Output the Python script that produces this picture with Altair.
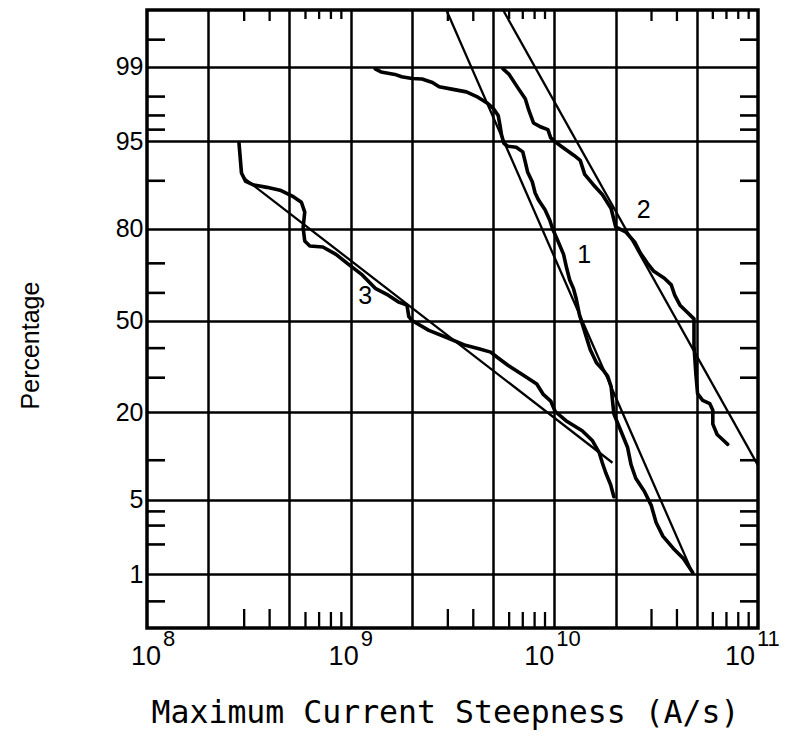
import altair as alt
import pandas as pd
from statistics import NormalDist

# ---------------- data ----------------
# Curve 1: measured cumulative distribution (steepness A/s, percentage)
c1_x = [1.32e9, 1.41e9, 1.65e9, 1.78e9, 2.0e9, 2.24e9, 2.52e9, 2.72e9, 3.18e9, 3.7e9,
        4.16e9, 4.67e9, 5.03e9, 5.3e9, 5.4e9, 5.5e9, 5.65e9, 5.9e9, 6.5e9, 7.0e9,
        7.2e9, 7.4e9, 7.8e9, 8.05e9, 8.35e9, 9.0e9, 9.5e9, 9.8e9, 1.04e10, 1.11e10,
        1.15e10, 1.19e10, 1.24e10, 1.28e10, 1.33e10, 1.38e10, 1.43e10, 1.5e10, 1.61e10, 1.73e10,
        1.83e10, 1.9e10, 1.93e10, 1.96e10, 2.12e10, 2.29e10, 2.38e10, 2.51e10, 2.77e10, 2.99e10,
        3.16e10, 3.41e10, 3.83e10, 4.3e10, 4.78e10]
c1_p = [98.95, 98.87, 98.8, 98.73, 98.68, 98.66, 98.55, 98.4, 98.3, 98.2,
        98.0, 97.7, 97.4, 97.0, 96.4, 95.6, 94.8, 94.5, 94.4, 93.9,
        92.7, 91.3, 89.8, 87.9, 86.6, 84.5, 82.1, 80.0, 76.8, 72.8,
        68.4, 64.5, 61.6, 58.0, 51.9, 48.1, 44.4, 39.5, 34.9, 32.6,
        30.4, 27.2, 23.2, 19.6, 15.6, 12.2, 9.3, 7.4, 5.85, 4.5,
        3.2, 2.4, 1.84, 1.45, 1.04]

# Curve 2
c2_x = [5.6e9, 6.0e9, 6.7e9, 7.2e9, 7.5e9, 7.9e9, 8.6e9, 9.3e9, 9.6e9, 1.0e10,
        1.08e10, 1.25e10, 1.34e10, 1.41e10, 1.55e10, 1.72e10, 1.9e10, 2.0e10, 2.25e10, 2.49e10,
        2.64e10, 2.86e10, 3.08e10, 3.47e10, 3.75e10, 3.9e10, 4.14e10, 4.48e10, 4.85e10, 4.85e10,
        4.85e10, 4.9e10, 4.95e10, 5.05e10, 5.35e10, 5.8e10, 6.0e10, 6.0e10, 6.3e10, 6.8e10,
        7.1e10]
c2_p = [98.95, 98.8, 98.3, 97.9, 97.3, 96.5, 96.2, 96.0, 95.3, 95.0,
        94.5, 93.5, 92.9, 91.0, 89.4, 87.6, 84.8, 80.5, 79.1, 76.3,
        73.3, 70.1, 67.4, 65.1, 62.8, 59.2, 55.6, 53.1, 50.6, 45.7,
        40.8, 36.0, 31.5, 25.1, 23.2, 22.3, 20.5, 17.1, 14.8, 13.5,
        12.8]

# Curve 3
c3_x = [2.83e8, 2.91e8, 3.05e8, 3.35e8, 3.88e8, 4.5e8, 5.23e8, 5.73e8, 5.95e8, 5.84e8,
        5.95e8, 6.3e8, 7.3e8, 8.47e8, 9.8e8, 1.14e9, 1.32e9, 1.53e9, 1.71e9, 1.89e9,
        1.93e9, 2.0e9, 2.42e9, 2.92e9, 3.66e9, 4.26e9, 4.87e9, 5.24e9, 5.94e9, 7.11e9,
        8.2e9, 8.8e9, 9.6e9, 1.01e10, 1.14e10, 1.37e10, 1.54e10, 1.66e10, 1.72e10, 1.79e10,
        1.89e10, 1.96e10]
c3_p = [94.8, 91.2, 89.9, 89.3, 88.9, 88.4, 87.2, 86.1, 84.0, 80.3,
        76.7, 75.3, 75.0, 72.8, 69.6, 66.2, 61.6, 59.2, 56.8, 55.6,
        51.4, 50.0, 46.4, 44.0, 41.0, 39.8, 38.6, 36.8, 34.0, 30.6,
        28.0, 25.0, 23.0, 20.2, 17.9, 15.6, 13.5, 11.3, 9.6, 8.1,
        6.6, 5.3]

# Fitted (straight) lognormal lines: end points
fit1_x = [2.95e9, 4.8e10]
fit1_p = [99.78, 1.0]
fit2_x = [5.6e9, 1.0e11]
fit2_p = [99.78, 9.2]
fit3_x = [3.0e8, 1.93e10]
fit3_p = [90.4, 9.6]

# Curve labels
lab_text = ["1", "2", "3"]
lab_x = [1.4e10, 2.75e10, 1.18e9]
lab_p = [72.5, 84.5, 59.0]

# Axis ticks / grid
y_major = [1, 5, 20, 50, 80, 95, 99]
y_minor = [0.5, 2, 3, 4, 10, 30, 40, 60, 70, 90, 96, 97, 98, 99.5]
x_grid = [2e8, 5e8, 1e9, 2e9, 5e9, 1e10, 2e10, 5e10]
x_minor_long = [3e8, 4e8, 3e9, 4e9, 3e10, 4e10]
x_minor_short = [6e8, 7e8, 8e8, 9e8, 6e9, 7e9, 8e9, 9e9, 6e10, 7e10, 8e10, 9e10]
x_label_exp = [8, 9, 10, 11]
x_base_dx = [14, 8, 0, -3]
x_exp_dx = [16, 10, 2, -1]

# ---------------- helpers ----------------
nd = NormalDist()


def zq(p):
    return nd.inv_cdf(p / 100.0)


W, H = 611, 618
Y_LO, Y_HI = zq(0.24), zq(99.78)

y_major_z = [zq(p) for p in y_major]
label_expr = "'%s'" % y_major[-1]
for i in range(len(y_major) - 2, -1, -1):
    mid = (y_major_z[i] + y_major_z[i + 1]) / 2
    label_expr = "datum.value < %.4f ? '%s' : (%s)" % (mid, y_major[i], label_expr)

xscale = alt.Scale(type="log", domain=[1e8, 1e11], nice=False)
yscale = alt.Scale(type="linear", domain=[Y_LO, Y_HI], nice=False, zero=False)

xaxis = alt.Axis(values=x_grid, labels=False, ticks=False, domain=False, grid=True,
                 gridColor="black", gridWidth=2.5, gridOpacity=1,
                 title="Maximum Current Steepness (A/s)", titleFont="DejaVu Sans Mono",
                 titleFontSize=31.5, titleFontWeight="normal", titleColor="black",
                 titleX=298, titleY=85, titleAlign="center", titleBaseline="middle")
yaxis = alt.Axis(values=y_major_z, labelExpr=label_expr, ticks=False, domain=False,
                 grid=True, gridColor="black", gridWidth=2.5, gridOpacity=1,
                 labelFont="Liberation Sans", labelFontSize=25, labelColor="black",
                 labelPadding=4,
                 title="Percentage", titleFont="Liberation Sans", titleFontSize=25,
                 titleFontWeight="normal", titleColor="black",
                 titleX=-117, titleY=335, titleAngle=270, titleAlign="center",
                 titleBaseline="middle")

X = alt.X("x:Q", scale=xscale, axis=xaxis)
Y = alt.Y("z:Q", scale=yscale, axis=yaxis)


def series_df(sets):
    rows = []
    for name, xs, ps in sets:
        for i, (xv, pv) in enumerate(zip(xs, ps)):
            rows.append({"series": name, "x": xv, "z": zq(pv), "o": i})
    return pd.DataFrame(rows)


meas = series_df([("1", c1_x, c1_p), ("2", c2_x, c2_p), ("3", c3_x, c3_p)])
fits = series_df([("1", fit1_x, fit1_p), ("2", fit2_x, fit2_p), ("3", fit3_x, fit3_p)])
labs = pd.DataFrame({"t": lab_text, "x": lab_x, "z": [zq(p) for p in lab_p]})

measured = alt.Chart(meas).mark_line(color="black", strokeWidth=3.6, strokeJoin="round",
                                     strokeCap="round", clip=True).encode(
    x=X, y=Y, detail="series:N", order="o:Q")
fitted = alt.Chart(fits).mark_line(color="black", strokeWidth=2.3, clip=True).encode(
    x=X, y=Y, detail="series:N", order="o:Q")
curve_labels = alt.Chart(labs).mark_text(font="Liberation Sans", fontSize=25, color="black",
                                         align="center", baseline="middle").encode(
    x=X, y=Y, text="t:N")

ymin = pd.DataFrame({"z": [zq(p) for p in y_minor]})
tick_l = alt.Chart(ymin).mark_rule(color="black", strokeWidth=2.6).encode(
    y=Y, x=alt.value(0), x2=alt.value(18))
tick_r = alt.Chart(ymin).mark_rule(color="black", strokeWidth=2.6).encode(
    y=Y, x=alt.value(W - 18), x2=alt.value(W))

xl = pd.DataFrame({"x": x_minor_long})
xs_ = pd.DataFrame({"x": x_minor_short})
tick_bl = alt.Chart(xl).mark_rule(color="black", strokeWidth=2.3).encode(
    x=X, y=alt.value(H), y2=alt.value(H - 19))
tick_bs = alt.Chart(xs_).mark_rule(color="black", strokeWidth=2.3).encode(
    x=X, y=alt.value(H), y2=alt.value(H - 16))
tick_tl = alt.Chart(xl).mark_rule(color="black", strokeWidth=2.3).encode(
    x=X, y=alt.value(0), y2=alt.value(11))
tick_ts = alt.Chart(xs_).mark_rule(color="black", strokeWidth=2.3).encode(
    x=X, y=alt.value(0), y2=alt.value(9))

xlab_layers = []
for e, bdx, edx in zip(x_label_exp, x_base_dx, x_exp_dx):
    d = pd.DataFrame({"x": [10.0 ** e], "b": ["10"], "e": [str(e)]})
    xlab_layers.append(alt.Chart(d).mark_text(font="Liberation Sans", fontSize=27,
                                              color="black", align="right",
                                              baseline="alphabetic", dx=bdx).encode(
        x=X, y=alt.value(H + 37), text="b:N"))
    xlab_layers.append(alt.Chart(d).mark_text(font="Liberation Sans", fontSize=22,
                                              color="black", align="left",
                                              baseline="alphabetic", dx=edx).encode(
        x=X, y=alt.value(H + 18), text="e:N"))

chart = alt.layer(measured, fitted, curve_labels, tick_l, tick_r,
                  tick_bl, tick_bs, tick_tl, tick_ts, *xlab_layers).properties(
    width=W, height=H,
    padding={"left": 139, "top": 2, "right": 24, "bottom": 112},
    autosize=alt.AutoSizeParams(type="none"),
    background="white",
).configure_view(stroke="black", strokeWidth=3.5)

chart.save("out.html", embed_options={"renderer": "svg", "actions": False})
